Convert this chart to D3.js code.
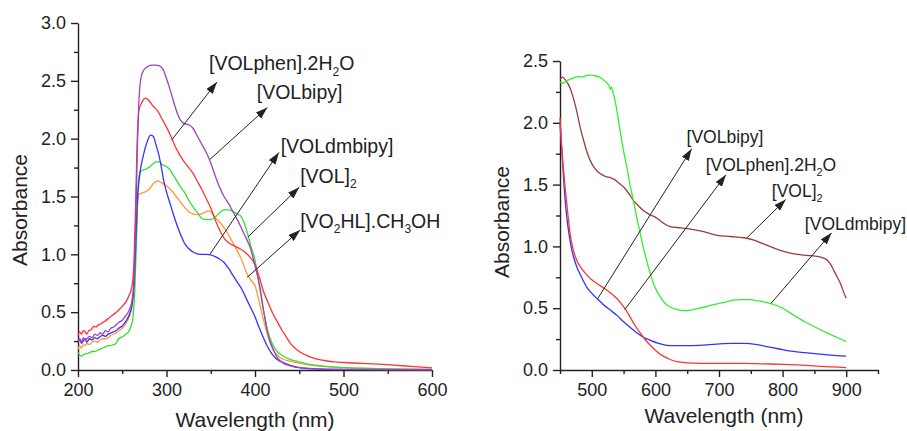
<!DOCTYPE html>
<html>
<head>
<meta charset="utf-8">
<script src="https://cdn.jsdelivr.net/npm/d3@7"></script>
<style>
  html, body { margin: 0; padding: 0; background: #fff; }
  svg { display: block; font-family: "Liberation Sans", Arial, sans-serif; }
</style>
</head>
<body>
<svg id="chart" width="907" height="431"></svg>
<script>
// =============================================================
// UV-Vis absorbance spectra — two panels
// =============================================================

// -----------------------------
// DATA (wavelength nm, absorbance)
// -----------------------------
// left panel, 200–600 nm
const LEFT_PHEN = [[200,0.30],[202,0.33],[204,0.31],[206,0.34],[208,0.33],[210,0.31],[212,0.34],[215,0.35],[218,0.38],[220,0.37],[223,0.39],[226,0.40],[230,0.42],[235,0.45],[240,0.48],[245,0.51],[250,0.55],[255,0.60],[258,0.65],[261,0.72],[263,0.9],[265,1.4],[267,2.0],[269,2.25],[272,2.31],[276,2.35],[280,2.33],[285,2.28],[290,2.24],[295,2.17],[300,2.10],[305,2.02],[310,1.93],[315,1.86],[320,1.80],[325,1.75],[330,1.70],[335,1.63],[340,1.56],[345,1.48],[350,1.40],[355,1.30],[360,1.21],[365,1.14],[370,1.10],[375,1.08],[380,1.06],[385,1.04],[390,1.01],[395,0.97],[400,0.91],[405,0.80],[410,0.67],[415,0.58],[420,0.49],[425,0.42],[430,0.35],[435,0.29],[440,0.23],[445,0.19],[450,0.16],[460,0.12],[470,0.095],[480,0.08],[490,0.07],[500,0.065],[520,0.058],[540,0.05],[560,0.04],[580,0.03],[600,0.018]];
const LEFT_BIPY = [[200,0.25],[202,0.27],[204,0.24],[206,0.28],[208,0.26],[210,0.27],[213,0.29],[216,0.28],[219,0.31],[222,0.30],[225,0.32],[228,0.31],[231,0.34],[234,0.33],[237,0.36],[240,0.37],[243,0.39],[246,0.41],[250,0.43],[254,0.47],[258,0.52],[261,0.60],[263,0.75],[265,1.2],[267,1.9],[269,2.35],[271,2.52],[274,2.59],[278,2.62],[283,2.635],[288,2.635],[292,2.63],[296,2.60],[300,2.52],[305,2.40],[310,2.27],[315,2.17],[320,2.13],[325,2.12],[330,2.09],[335,2.02],[340,1.95],[345,1.88],[350,1.79],[355,1.68],[360,1.58],[365,1.50],[370,1.44],[375,1.37],[380,1.30],[385,1.22],[390,1.14],[395,1.05],[400,0.90],[405,0.74],[410,0.50],[415,0.30],[420,0.19],[425,0.11],[430,0.07],[440,0.035],[450,0.02],[470,0.01],[500,0.005],[600,0.002]];
const LEFT_DMBIPY = [[200,0.24],[202,0.26],[204,0.23],[206,0.25],[208,0.27],[210,0.24],[213,0.27],[216,0.26],[219,0.28],[222,0.27],[225,0.29],[228,0.30],[231,0.29],[234,0.31],[237,0.32],[240,0.33],[243,0.34],[246,0.36],[250,0.38],[254,0.42],[258,0.48],[261,0.56],[263,0.70],[265,1.05],[267,1.45],[270,1.70],[274,1.86],[278,1.97],[282,2.03],[285,2.02],[288,1.95],[291,1.87],[294,1.76],[297,1.63],[300,1.54],[304,1.44],[308,1.34],[312,1.25],[316,1.17],[320,1.10],[325,1.05],[330,1.02],[335,1.005],[340,1.0],[345,1.0],[350,0.995],[355,0.98],[360,0.96],[365,0.93],[370,0.88],[375,0.82],[380,0.76],[385,0.70],[390,0.62],[395,0.54],[400,0.46],[405,0.36],[410,0.27],[415,0.19],[420,0.13],[425,0.09],[430,0.07],[440,0.04],[450,0.02],[460,0.012],[480,0.006],[500,0.004],[600,0.001]];
const LEFT_VOL2 = [[200,0.15],[202,0.13],[204,0.12],[206,0.13],[208,0.14],[210,0.14],[213,0.15],[216,0.16],[219,0.16],[222,0.17],[225,0.18],[228,0.19],[231,0.20],[234,0.21],[237,0.21],[240,0.22],[243,0.23],[245,0.26],[248,0.28],[251,0.29],[254,0.31],[257,0.33],[260,0.38],[262,0.45],[264,0.65],[266,1.1],[268,1.6],[270,1.71],[274,1.73],[278,1.74],[283,1.77],[288,1.80],[292,1.80],[296,1.77],[300,1.76],[304,1.73],[308,1.68],[312,1.63],[316,1.58],[320,1.54],[325,1.47],[330,1.41],[335,1.36],[340,1.31],[345,1.30],[350,1.30],[355,1.32],[360,1.36],[365,1.385],[370,1.385],[375,1.37],[380,1.35],[385,1.32],[390,1.22],[395,1.08],[400,0.95],[405,0.72],[410,0.50],[415,0.32],[420,0.22],[425,0.16],[430,0.13],[440,0.09],[450,0.07],[460,0.05],[470,0.04],[490,0.025],[520,0.015],[560,0.008],[600,0.005]];
const LEFT_VO2HL = [[200,0.18],[202,0.21],[204,0.19],[206,0.22],[208,0.21],[210,0.23],[213,0.22],[216,0.24],[219,0.25],[222,0.24],[225,0.26],[228,0.27],[231,0.27],[234,0.28],[237,0.30],[240,0.31],[243,0.32],[246,0.34],[250,0.36],[254,0.40],[258,0.46],[261,0.55],[263,0.72],[265,1.05],[267,1.40],[269,1.52],[272,1.53],[276,1.54],[280,1.56],[285,1.61],[290,1.635],[294,1.62],[298,1.60],[302,1.58],[306,1.55],[310,1.51],[315,1.46],[320,1.41],[325,1.37],[330,1.35],[335,1.345],[340,1.35],[345,1.37],[348,1.375],[352,1.35],[356,1.31],[360,1.28],[365,1.23],[370,1.17],[375,1.10],[380,1.03],[385,0.95],[390,0.85],[395,0.78],[400,0.73],[405,0.58],[410,0.42],[415,0.28],[420,0.18],[425,0.13],[430,0.10],[440,0.075],[450,0.06],[460,0.045],[480,0.03],[500,0.02],[550,0.01],[600,0.005]];

// right panel, 450–900 nm
const RIGHT_VOL2 = [[450,2.35],[454,2.37],[458,2.35],[462,2.32],[466,2.28],[471,2.20],[476,2.10],[481,1.98],[487,1.86],[492,1.77],[497,1.70],[505,1.63],[513,1.59],[522,1.565],[530,1.555],[536,1.54],[543,1.51],[550,1.48],[558,1.43],[565,1.375],[573,1.33],[581,1.29],[590,1.26],[602,1.23],[612,1.19],[623,1.16],[640,1.15],[655,1.14],[676,1.12],[697,1.09],[718,1.08],[739,1.07],[755,1.05],[770,1.02],[785,0.99],[802,0.96],[818,0.94],[833,0.93],[845,0.925],[854,0.92],[862,0.91],[870,0.89],[876,0.85],[881,0.80],[886,0.75],[891,0.70],[896,0.63],[900,0.58]];
const RIGHT_DMBIPY = [[450,2.33],[455,2.32],[460,2.34],[465,2.35],[470,2.36],[475,2.37],[480,2.375],[485,2.37],[490,2.38],[495,2.385],[500,2.385],[505,2.38],[510,2.375],[515,2.36],[520,2.34],[524,2.32],[527,2.30],[529,2.27],[531,2.29],[533,2.25],[537,2.17],[541,2.05],[545,1.92],[550,1.77],[555,1.645],[560,1.50],[565,1.38],[570,1.25],[576,1.11],[581,0.99],[586,0.89],[592,0.78],[597,0.70],[602,0.64],[608,0.59],[615,0.54],[623,0.51],[633,0.49],[644,0.48],[655,0.485],[670,0.50],[685,0.52],[697,0.535],[710,0.55],[722,0.565],[735,0.57],[748,0.57],[760,0.56],[775,0.545],[786,0.53],[800,0.50],[817,0.445],[835,0.39],[854,0.34],[870,0.30],[885,0.265],[900,0.23]];
const RIGHT_BIPY = [[450,2.0],[452,1.85],[455,1.60],[458,1.38],[462,1.18],[466,1.04],[470,0.94],[476,0.84],[484,0.75],[492,0.67],[500,0.62],[509,0.575],[518,0.53],[529,0.485],[540,0.44],[550,0.39],[560,0.345],[571,0.30],[581,0.265],[592,0.24],[605,0.215],[618,0.20],[630,0.197],[644,0.197],[670,0.20],[697,0.21],[720,0.215],[739,0.215],[760,0.205],[775,0.19],[795,0.17],[817,0.15],[835,0.14],[854,0.13],[875,0.12],[900,0.113]];
const RIGHT_PHEN = [[450,2.04],[452,1.85],[455,1.65],[458,1.48],[462,1.28],[466,1.10],[471,0.97],[476,0.89],[484,0.82],[492,0.77],[500,0.73],[508,0.70],[518,0.665],[529,0.625],[537,0.59],[545,0.545],[553,0.49],[560,0.43],[568,0.36],[576,0.30],[584,0.245],[592,0.20],[602,0.15],[613,0.11],[623,0.085],[634,0.067],[650,0.058],[670,0.054],[700,0.054],[739,0.054],[770,0.05],[802,0.046],[830,0.04],[854,0.032],[880,0.025],[900,0.02]];

// tick values
const LEFT_X_TICKS = [200, 300, 400, 500, 600];
const LEFT_X_MINOR = [250, 350, 450, 550];
const LEFT_Y_TICKS = [0, 0.5, 1.0, 1.5, 2.0, 2.5, 3.0];
const LEFT_Y_MINOR = [0.25, 0.75, 1.25, 1.75, 2.25, 2.75];
const RIGHT_X_TICKS = [500, 600, 700, 800, 900];
const RIGHT_X_MINOR = [450, 550, 650, 750, 850, 950];
const RIGHT_Y_TICKS = [0, 0.5, 1.0, 1.5, 2.0, 2.5];
const RIGHT_Y_MINOR = [0.25, 0.75, 1.25, 1.75, 2.25];

// annotations: label text, label anchor [nm, A], arrow from [nm, A] to [nm, A]
const LEFT_LABELS = ["[VOLphen].2H_2O", "[VOLbipy]", "[VOLdmbipy]", "[VOL]_2", "[VO_2HL].CH_3OH"];
const LEFT_LABEL_AT = [[348, 2.59], [402, 2.34], [429, 1.88], [451, 1.62], [451, 1.23]];
const LEFT_ARROWS = [[[306, 1.99], [357, 2.49]], [[349, 1.82], [414, 2.27]], [[349, 1.0], [427, 1.88]], [[392, 1.15], [450, 1.58]], [[391, 0.80], [451, 1.21]]];

const RIGHT_LABELS = ["[VOLbipy]", "[VOLphen].2H_2O", "[VOL]_2", "[VOLdmbipy]"];
const RIGHT_LABEL_AT = [[649, 1.84], [679, 1.61], [783, 1.40], [835, 1.13]];
const RIGHT_ARROWS = [[[509, 0.575], [657, 1.79]], [[552, 0.49], [711, 1.58]], [[744, 1.07], [805, 1.38]], [[782, 0.54], [877, 1.11]]];

// -----------------------------
// CONFIG
// -----------------------------
const INK = "#222";
const svg = d3.select("#chart");

svg.append("defs").append("marker")
  .attr("id", "arrow")
  .attr("markerUnits", "userSpaceOnUse")
  .attr("viewBox", "0 0 12 8")
  .attr("refX", 12)
  .attr("refY", 4)
  .attr("markerWidth", 12)
  .attr("markerHeight", 8)
  .attr("orient", "auto")
  .append("path")
  .attr("d", "M0,0 L12,4 L0,8 Z")
  .attr("fill", INK);

// =============================================================
// PANELS
// =============================================================
drawPanel({
  x: [78, 432], y: [370, 23],
  xDomain: [200, 600], yDomain: [0, 3],
  xTicks: LEFT_X_TICKS, xMinor: LEFT_X_MINOR,
  yTicks: LEFT_Y_TICKS, yMinor: LEFT_Y_MINOR,
  series: [
    { data: LEFT_VO2HL, color: "#ff9933" },
    { data: LEFT_VOL2, color: "#33e033" },
    { data: LEFT_DMBIPY, color: "#3333ff" },
    { data: LEFT_PHEN, color: "#ff3333" },
    { data: LEFT_BIPY, color: "#a040c0" }
  ],
  labels: LEFT_LABELS, labelAt: LEFT_LABEL_AT, arrows: LEFT_ARROWS, labelSize: 19.5,
  yTitle: [27, 210], xTitle: [255, 427]
});

drawPanel({
  x: [560, 878], y: [370, 61],
  xDomain: [450, 950], yDomain: [0, 2.5],
  xTicks: RIGHT_X_TICKS, xMinor: RIGHT_X_MINOR,
  yTicks: RIGHT_Y_TICKS, yMinor: RIGHT_Y_MINOR,
  series: [
    { data: RIGHT_VOL2, color: "#9c3b3b" },
    { data: RIGHT_DMBIPY, color: "#33ee33" },
    { data: RIGHT_BIPY, color: "#3333ff" },
    { data: RIGHT_PHEN, color: "#ff3333" }
  ],
  labels: RIGHT_LABELS, labelAt: RIGHT_LABEL_AT, arrows: RIGHT_ARROWS, labelSize: 17.5,
  yTitle: [509, 222], xTitle: [724, 423]
});

function drawPanel(cfg) {
  const x = d3.scaleLinear().domain(cfg.xDomain).range(cfg.x);
  const y = d3.scaleLinear().domain(cfg.yDomain).range(cfg.y);
  const g = svg.append("g");

  // minor ticks
  g.append("g")
    .attr("transform", `translate(0,${cfg.y[0]})`)
    .call(d3.axisBottom(x).tickValues(cfg.xMinor).tickSize(4).tickFormat(""))
    .call(a => a.select(".domain").remove());
  g.append("g")
    .attr("transform", `translate(${cfg.x[0]},0)`)
    .call(d3.axisLeft(y).tickValues(cfg.yMinor).tickSize(4).tickFormat(""))
    .call(a => a.select(".domain").remove());

  // major axes
  const xAxis = g.append("g")
    .attr("transform", `translate(0,${cfg.y[0]})`)
    .call(d3.axisBottom(x).tickValues(cfg.xTicks).tickSize(7).tickSizeOuter(0)
      .tickPadding(6).tickFormat(d3.format("d")));
  const yAxis = g.append("g")
    .attr("transform", `translate(${cfg.x[0]},0)`)
    .call(d3.axisLeft(y).tickValues(cfg.yTicks).tickSize(7).tickSizeOuter(0)
      .tickPadding(5).tickFormat(d3.format(".1f")));

  [xAxis, yAxis].forEach(a => {
    a.attr("font-family", null).attr("font-size", 18);
    a.selectAll("text").attr("fill", INK);
  });
  g.selectAll(".domain, .tick line").attr("stroke", INK).attr("stroke-width", 1.4);

  // spectra
  const line = d3.line()
    .x(d => x(d[0]))
    .y(d => y(d[1]))
    .curve(d3.curveMonotoneX);

  g.selectAll(".spectrum")
    .data(cfg.series)
    .join("path")
    .attr("class", "spectrum")
    .attr("fill", "none")
    .attr("stroke", d => d.color)
    .attr("stroke-width", 1.3)
    .attr("d", d => line(d.data));

  // arrows
  g.selectAll(".pointer")
    .data(cfg.arrows)
    .join("line")
    .attr("class", "pointer")
    .attr("x1", d => x(d[0][0]))
    .attr("y1", d => y(d[0][1]))
    .attr("x2", d => x(d[1][0]))
    .attr("y2", d => y(d[1][1]))
    .attr("stroke", INK)
    .attr("stroke-width", 1)
    .attr("marker-end", "url(#arrow)");

  // labels, "_n" makes a subscript digit
  cfg.labels.forEach((txt, i) => {
    const t = g.append("text")
      .attr("x", x(cfg.labelAt[i][0]))
      .attr("y", y(cfg.labelAt[i][1]))
      .attr("font-size", cfg.labelSize)
      .attr("fill", INK);
    txt.split(/(_\d)/).filter(s => s).forEach(part => {
      if (part[0] === "_") {
        t.append("tspan").attr("font-size", cfg.labelSize * 0.62)
          .attr("dy", cfg.labelSize * 0.28).text(part.slice(1));
      } else {
        const sp = t.append("tspan").text(part);
        if (t.selectAll("tspan").size() > 1) sp.attr("dy", -cfg.labelSize * 0.28);
      }
    });
  });

  // axis titles
  svg.append("text")
    .attr("transform", `translate(${cfg.yTitle[0]},${cfg.yTitle[1]}) rotate(-90)`)
    .attr("text-anchor", "middle")
    .attr("font-size", 21)
    .attr("fill", INK)
    .text("Absorbance");

  svg.append("text")
    .attr("x", cfg.xTitle[0])
    .attr("y", cfg.xTitle[1])
    .attr("text-anchor", "middle")
    .attr("font-size", 21)
    .attr("fill", INK)
    .text("Wavelength (nm)");
}
</script>
</body>
</html>
